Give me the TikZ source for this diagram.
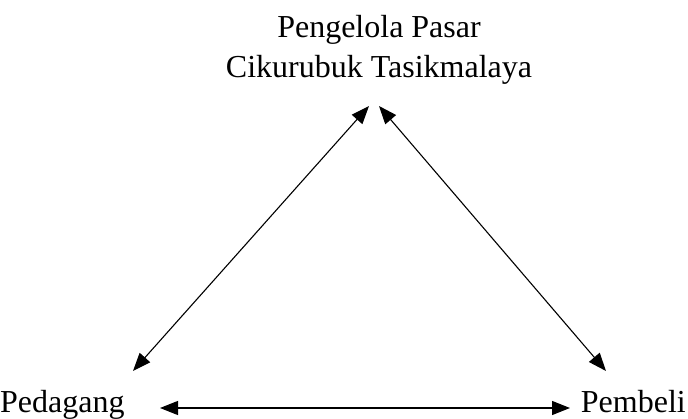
\documentclass[tikz,border=0pt]{standalone}
\usepackage{fontspec}
\setmainfont{Liberation Serif}
\usetikzlibrary{arrows.meta}
\begin{document}
\begin{tikzpicture}[x=1pt,y=-1pt,
  lbl/.style={inner sep=0pt,font=\fontsize{32}{40}\selectfont},
  link/.style={line width=1.1pt,{Triangle[length=18pt,width=14pt]}-{Triangle[length=18pt,width=14pt]}}]
\useasboundingbox (0,0) rectangle (688,419);
\node[lbl,align=center,anchor=base] (top) at (379,78) {Pengelola Pasar\\Cikurubuk Tasikmalaya};
\node[lbl,anchor=base west] (ped) at (0,412) {Pedagang};
\node[lbl,anchor=base east] (pem) at (686,412) {Pembeli};
\coordinate (tl) at (369,106);
\coordinate (tr) at (379,106);
\coordinate (bl) at (133,371);
\coordinate (br) at (606,371);
\coordinate (pl) at (160,408);
\coordinate (pr) at (570,408);
\draw[link] (tl) -- (bl);
\draw[link] (tr) -- (br);
\draw[link] (pl) -- (pr);
\end{tikzpicture}
\end{document}
